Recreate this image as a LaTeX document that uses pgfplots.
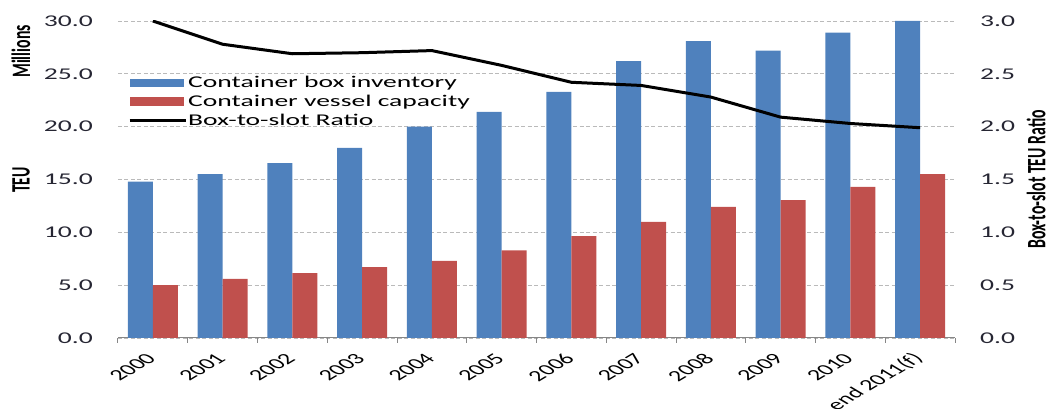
\documentclass[border=0pt]{standalone}
\usepackage{fontspec}
\setmainfont{Carlito}
\newfontfamily\stretchfont[FakeStretch=1.68]{Carlito}
\usepackage{graphicx}
\usepackage{pgfplots}
\pgfplotsset{compat=1.18}
\definecolor{barblue}{HTML}{4F81BD}
\definecolor{barred}{HTML}{C0504D}
\definecolor{gridgray}{HTML}{BABABA}
\definecolor{axisgray}{HTML}{868686}
\definecolor{ticktext}{HTML}{262633}
\begin{document}
\begin{tikzpicture}
\begin{axis}[
  at={(0pt,0pt)}, anchor=south west,
  scale only axis, width=837pt, height=317pt,
  xmin=0, xmax=12, ymin=0, ymax=30,
  ybar=0pt, bar width=25pt,
  axis x line*=bottom, axis y line*=left,
  x axis line style={-, draw=axisgray, line width=1pt},
  y axis line style={draw=none},
  ymajorgrids,
  grid style={gridgray, dash pattern=on 4pt off 2.5pt, line width=0.9pt},
  ytick={0,5,...,30},
  ytick style={draw=none},
  xtick={0.5,1.5,...,11.5},
  xticklabels={2000,2001,2002,2003,2004,2005,2006,2007,2008,2009,2010,end 2011(f)},
  major tick length=0pt,
  minor xtick={0,1,...,12},
  minor tick length=5pt,
  tick align=outside,
  major x tick style={draw=none},
  minor x tick style={draw=axisgray, line width=1pt},
  /pgf/number format/assume math mode=true,
  /pgf/number format/fixed, /pgf/number format/fixed zerofill, /pgf/number format/precision=1,
  yticklabel style={font=\stretchfont\fontsize{16.4}{19}\selectfont, color=ticktext, anchor=east, inner sep=0pt, xshift=-25pt},
  xticklabel style={font=\fontsize{15.5}{18}\selectfont, inner sep=0pt, xshift=-1.5pt, yshift=-18pt, xscale=1.68, rotate=45, anchor=east},
  legend cell align=left,
  legend style={at={(axis description cs:0.012,0.832)}, anchor=north west, draw=none, fill=none,
    font=\stretchfont\fontsize{16.4}{19}\selectfont, row sep=1.8pt, inner sep=0pt,
    nodes={inner sep=1pt, text depth=3pt, text height=12pt}},
]
\addplot[fill=barblue, draw=none,
  legend image code/.code={\fill[barblue] (0pt,-4.3pt) rectangle (54pt,4.3pt);}]
  coordinates {(0.5,14.8) (1.5,15.5) (2.5,16.55) (3.5,18.0) (4.5,20.0) (5.5,21.4) (6.5,23.3) (7.5,26.2) (8.5,28.1) (9.5,27.2) (10.5,28.9) (11.5,30.0)};
\addlegendentry{Container box inventory}
\addplot[fill=barred, draw=none,
  legend image code/.code={\fill[barred] (0pt,-4.3pt) rectangle (54pt,4.3pt);}]
  coordinates {(0.5,5.0) (1.5,5.6) (2.5,6.15) (3.5,6.7) (4.5,7.3) (5.5,8.3) (6.5,9.65) (7.5,11.0) (8.5,12.4) (9.5,13.05) (10.5,14.3) (11.5,15.5)};
\addlegendentry{Container vessel capacity}
\addlegendimage{legend image code/.code={\draw[black, line width=3pt] (0pt,0pt) -- (56pt,0pt);}}
\addlegendentry{Box-to-slot Ratio}
\end{axis}
\begin{axis}[
  at={(0pt,0pt)}, anchor=south west,
  scale only axis, width=837pt, height=317pt,
  xmin=0, xmax=12, ymin=0, ymax=3,
  axis x line=none, axis y line*=right,
  y axis line style={draw=none},
  ytick={0,0.5,...,3},
  ytick style={draw=none},
  major tick length=0pt,
  /pgf/number format/assume math mode=true,
  /pgf/number format/fixed, /pgf/number format/fixed zerofill, /pgf/number format/precision=1,
  yticklabel style={font=\stretchfont\fontsize{16.4}{19}\selectfont, color=ticktext, anchor=west, inner sep=0pt, xshift=25pt},
  ylabel={\scalebox{1}[1.68]{Box-to-slot TEU Ratio}},
  ylabel style={at={(axis description cs:1.0968,0.5)}, rotate=0, anchor=center, font=\bfseries\fontsize{15.8}{18}\selectfont},
]
\addplot[black, line width=3pt, line join=round, mark=none]
  coordinates {(0.5,3.0) (1.5,2.78) (2.5,2.69) (3.5,2.70) (4.5,2.72) (5.5,2.58) (6.5,2.42) (7.5,2.39) (8.5,2.28) (9.5,2.09) (10.5,2.03) (11.5,1.99)};
\end{axis}
\node[rotate=90, anchor=center, font=\bfseries\fontsize{15.8}{18}\selectfont] at (-97pt,158pt) {\scalebox{1}[1.68]{TEU}};
\node[rotate=90, anchor=center, font=\bfseries\fontsize{15.8}{18}\selectfont] at (-97pt,286.5pt) {\scalebox{1}[1.68]{Millions}};
\pgfresetboundingbox
\path[use as bounding box] (-118pt,-71pt) rectangle (937pt,338pt);
\end{tikzpicture}
\end{document}
